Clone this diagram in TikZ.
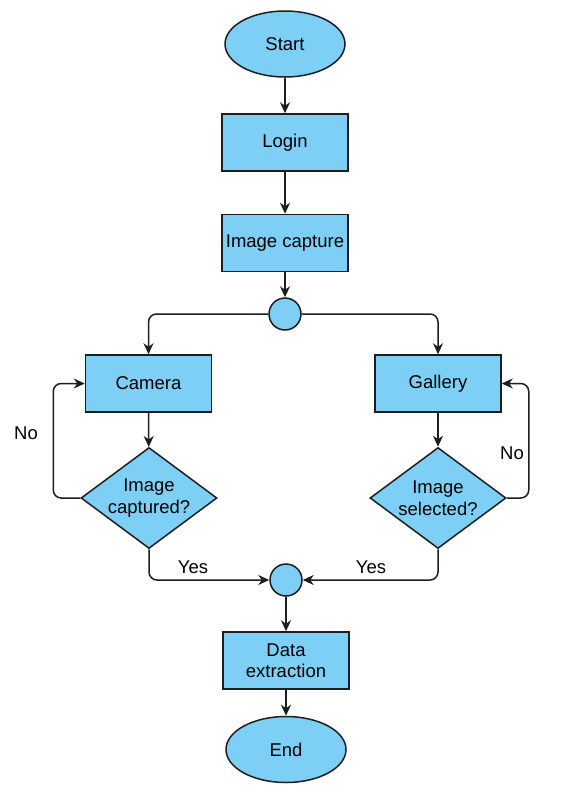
\documentclass[tikz,border=0pt]{standalone}
\usepackage{fontspec}
\setmainfont{Liberation Sans}
\usetikzlibrary{positioning, arrows.meta, shapes.geometric}
\definecolor{boxblue}{RGB}{125,207,245}
\definecolor{linegray}{RGB}{30,30,30}

\begin{document}
\begin{tikzpicture}
        [x=1pt, y=-1pt,
         every node/.style={font=\fontsize{18.5}{21.5}\selectfont},
         block/.style={rectangle, draw=linegray, fill=boxblue, line width=1.5pt,
                       minimum width=126pt, minimum height=57pt, align=center, inner sep=0pt},
         terminal/.style={ellipse, draw=linegray, fill=boxblue, line width=1.5pt,
                          minimum width=120pt, minimum height=66pt, inner sep=0pt},
         decision/.style={diamond, draw=linegray, fill=boxblue, line width=1.5pt, aspect=1.33,
                          minimum width=136pt, minimum height=101pt, align=center, inner sep=0pt},
         junction/.style={circle, draw=linegray, fill=boxblue, line width=1.5pt,
                          minimum size=32pt, inner sep=0pt},
         flow/.style={draw=linegray, line width=1.5pt, rounded corners=8pt},
         >={Stealth[length=11pt, width=10pt, inset=3.5pt]}]
        \useasboundingbox (0,0) rectangle (569,800);

        \node[terminal] (start) at (285,44) {Start};
        \node[block] (login) at (285,142.5) {Login};
        \node[block] (capture) at (285,243) {Image capture};
        \node[junction] (split) at (285,314) {};
        \node[block] (camera) at (148.5,383.5) {Camera};
        \node[block] (gallery) at (438,383.5) {Gallery};
        \node[decision] (dcam) at (149,498) {Image\\captured?};
        \node[decision] (dgal) at (438,498) {Image\\selected?};
        \node[junction] (merge) at (286,580) {};
        \node[block] (extract) at (286,660.5) {Data\\extraction};
        \node[terminal] (end) at (286,749.5) {End};

        \draw[flow, ->] (start) -- (login);
        \draw[flow, ->] (login) -- (capture);
        \draw[flow, ->] (capture) -- (split);
        \draw[flow, ->] (split.west) -| (camera.north);
        \draw[flow, ->] (split.east) -| (gallery.north);
        \draw[flow, ->] (camera) -- (dcam);
        \draw[flow, ->] (gallery) -- (dgal);
        \draw[flow, ->] (dcam.west) -- ++(-27,0) |- (camera.west);
        \draw[flow, ->] (dgal.east) -- ++(22,0) |- (gallery.east);
        \draw[flow, ->] (dcam.south) |- (merge.west);
        \draw[flow, ->] (dgal.south) |- (merge.east);
        \draw[flow, ->] (merge) -- (extract);
        \draw[flow, ->] (extract) -- (end);

        \node (nocam) at (26,433) {No};
        \node (nogal) at (512,453) {No};
        \node (yescam) at (193,567) {Yes};
        \node (yesgal) at (371,567) {Yes};
    \end{tikzpicture}
\end{document}
